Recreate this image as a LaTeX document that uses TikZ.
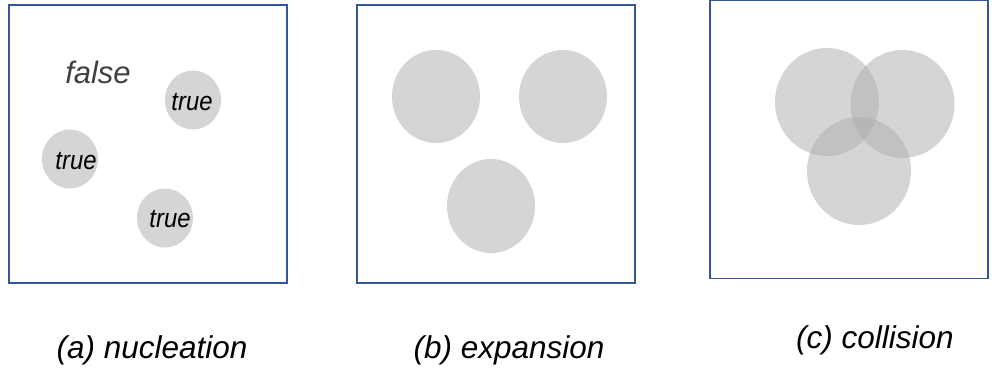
\documentclass[tikz,border=0pt]{standalone}
\usepackage{fontspec}
\setmainfont{Liberation Sans}
\usetikzlibrary{shapes.geometric}
\definecolor{boxblue}{RGB}{52,85,150}
\definecolor{bubblegray}{RGB}{214,213,214}
\definecolor{bubbledark}{RGB}{175,172,173}
\definecolor{falsegray}{RGB}{64,64,64}
\newcommand{\truelabel}{\scalebox{0.9}[1]{true}}
\begin{document}
\begin{tikzpicture}[x=1pt,y=-1pt,
  panel/.style={draw=boxblue,line width=1.4pt,fill=white,inner sep=0,minimum width=278pt,minimum height=278pt},
  bubble/.style={ellipse,fill=bubblegray,draw=none,inner sep=0},
  merged/.style={ellipse,fill=bubbledark,fill opacity=0.5,draw=none,inner sep=0},
  truetext/.style={inner sep=0,anchor=base,font=\fontsize{26.5}{30}\selectfont\itshape},
  captiontext/.style={inner sep=0,anchor=base,font=\fontsize{31.5}{37}\selectfont\itshape}]
\useasboundingbox (0,0) rectangle (992,369);
% panel a
\node[panel] (pa) at (148,144) {};
\node[bubble,minimum width=56pt,minimum height=59pt] (a1) at (193,100) {};
\node[bubble,minimum width=56pt,minimum height=59pt] (a2) at (70,159) {};
\node[bubble,minimum width=56pt,minimum height=59pt] (a3) at (165,218) {};
\node[inner sep=0,anchor=base,text=falsegray,font=\fontsize{31}{37}\selectfont\itshape] (f) at (98,83) {false};
\node[truetext] (t1) at (192,110) {\truelabel};
\node[truetext] (t2) at (76,169) {\truelabel};
\node[truetext] (t3) at (170,227) {\truelabel};
% panel b
\node[panel] (pb) at (496,144) {};
\node[bubble,minimum width=88pt,minimum height=93pt] (b1) at (436,96.5) {};
\node[bubble,minimum width=88pt,minimum height=93pt] (b2) at (563,96.5) {};
\node[bubble,minimum width=88pt,minimum height=94pt] (b3) at (491,206) {};
% panel c
\node[panel] (pc) at (849,139.5) {};
\node[merged,minimum width=104pt,minimum height=108pt] (c1) at (827,102) {};
\node[merged,minimum width=104pt,minimum height=108pt] (c2) at (902.5,104) {};
\node[merged,minimum width=104pt,minimum height=108pt] (c3) at (859,171) {};
% captions
\node[captiontext] (la) at (152,358) {(a) nucleation};
\node[captiontext] (lb) at (509,358) {(b) expansion};
\node[captiontext] (lc) at (875,348) {(c) collision};
\end{tikzpicture}
\end{document}
